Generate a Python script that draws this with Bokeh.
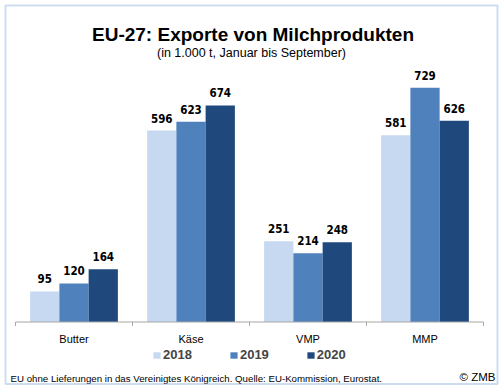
from bokeh.plotting import figure
from bokeh.models import (ColumnDataSource, Range1d, LabelSet, Label, Legend,
                          LegendItem, BoxAnnotation)
from bokeh.core.properties import value
from bokeh.embed import file_html
from bokeh.resources import INLINE

# ---- data ----
categories = ["Butter", "Käse", "VMP", "MMP"]
years = ["2018", "2019", "2020"]
v2018 = [95, 596, 251, 581]
v2019 = [120, 623, 214, 729]
v2020 = [164, 674, 248, 626]
colors = ["#c6d9f1", "#4f81bd", "#1f497d"]
title_text = "EU-27: Exporte von Milchprodukten"
subtitle_text = "(in 1.000 t, Januar bis September)"
footer_text = "EU ohne Lieferungen in das Vereinigtes Königreich. Quelle: EU-Kommission, Eurostat."
credit_text = "© ZMB"

series = {"2018": v2018, "2019": v2019, "2020": v2020}
offsets = {"2018": -0.25, "2019": 0.0, "2020": 0.25}
n = len(categories)
centers = [i + 0.5 for i in range(n)]
data = {"cat": categories}
for yr, vals in series.items():
    data["x" + yr] = [c + offsets[yr] for c in centers]
    data["y" + yr] = vals
    data["l" + yr] = [str(v) for v in vals]
src = ColumnDataSource(data)

FONT = "Liberation Sans"
NARROW = "Liberation Sans Narrow, DejaVu Sans Condensed, Liberation Sans"

# canvas geometry (pixels) -> data mapping
W, H = 500, 389
X0, KX = 15.0, 117.0        # pixel of first category boundary, pixels per category
Y0, KY = 321.5, 0.3213      # pixel of baseline, pixels per unit


def dx(px):
    return (px - X0) / KX


def dy(py):
    return (Y0 - py) / KY


p = figure(x_range=Range1d(dx(0), dx(W)), y_range=Range1d(dy(H), dy(0)),
           width=W, height=H, output_backend="svg", toolbar_location=None,
           x_axis_location=None, y_axis_location=None,
           min_border=0, min_border_left=0, min_border_right=0,
           min_border_top=0, min_border_bottom=0)
p.outline_line_color = None
p.xgrid.visible = False
p.ygrid.visible = False
p.background_fill_color = "white"
p.border_fill_color = "white"

renderers = []
for yr, col in zip(years, colors):
    r = p.vbar(x="x" + yr, top="y" + yr, bottom=0, width=0.25,
               source=src, fill_color=col, line_color=None)
    renderers.append(r)
    labels = LabelSet(x="x" + yr, y="y" + yr, text="l" + yr,
                      source=src, text_align="center", text_baseline="alphabetic",
                      y_offset=8, text_font=value(NARROW), text_font_style="bold",
                      text_font_size="11.5px", text_color="black")
    p.add_layout(labels)

# category axis: baseline, boundary ticks, labels
bounds = list(range(n + 1))
p.segment(x0=[0], y0=[0], x1=[n], y1=[0], line_color="#a6a6a6", line_width=1)
p.segment(x0=bounds, y0=[0] * len(bounds), x1=bounds, y1=[dy(Y0 + 4)] * len(bounds),
          line_color="#a6a6a6", line_width=1)
p.text(x=centers, y=[dy(338)] * n, text=categories, text_align="center",
       text_baseline="middle", text_font=value(FONT), text_font_size="11px",
       text_color="black")

legend = Legend(items=[LegendItem(label=value(yr), renderers=[r]) for yr, r in zip(years, renderers)],
                orientation="horizontal", location=(152, H - 362),
                label_text_font=FONT, label_text_font_style="bold",
                label_text_font_size="13px", glyph_width=9, glyph_height=8,
                label_standoff=2, spacing=37, padding=0, margin=0,
                label_height=14, border_line_color=None, background_fill_alpha=0)
p.add_layout(legend)

p.add_layout(Label(x=dx(252.5), y=dy(34), text=title_text,
                   text_align="center", text_baseline="alphabetic", text_font=FONT,
                   text_font_style="bold", text_font_size="19px", text_color="black"))
p.add_layout(Label(x=dx(251), y=dy(52.5), text=subtitle_text,
                   text_align="center", text_baseline="alphabetic", text_font=FONT,
                   text_font_size="12.5px", text_color="black"))
p.add_layout(Label(x=dx(10), y=dy(378), text=footer_text,
                   text_align="left", text_baseline="alphabetic", text_font=FONT,
                   text_font_size="9.7px", text_color="black"))
p.add_layout(Label(x=dx(495), y=dy(376.5), text=credit_text,
                   text_align="right", text_baseline="alphabetic", text_font=FONT,
                   text_font_size="11.5px", text_color="black"))

p.add_layout(BoxAnnotation(left=dx(5), right=dx(497), top=dy(5), bottom=dy(383.5),
                           fill_alpha=0, line_color="#5b8bc9", line_width=2))

open("out.html", "w").write(file_html(p, INLINE))
